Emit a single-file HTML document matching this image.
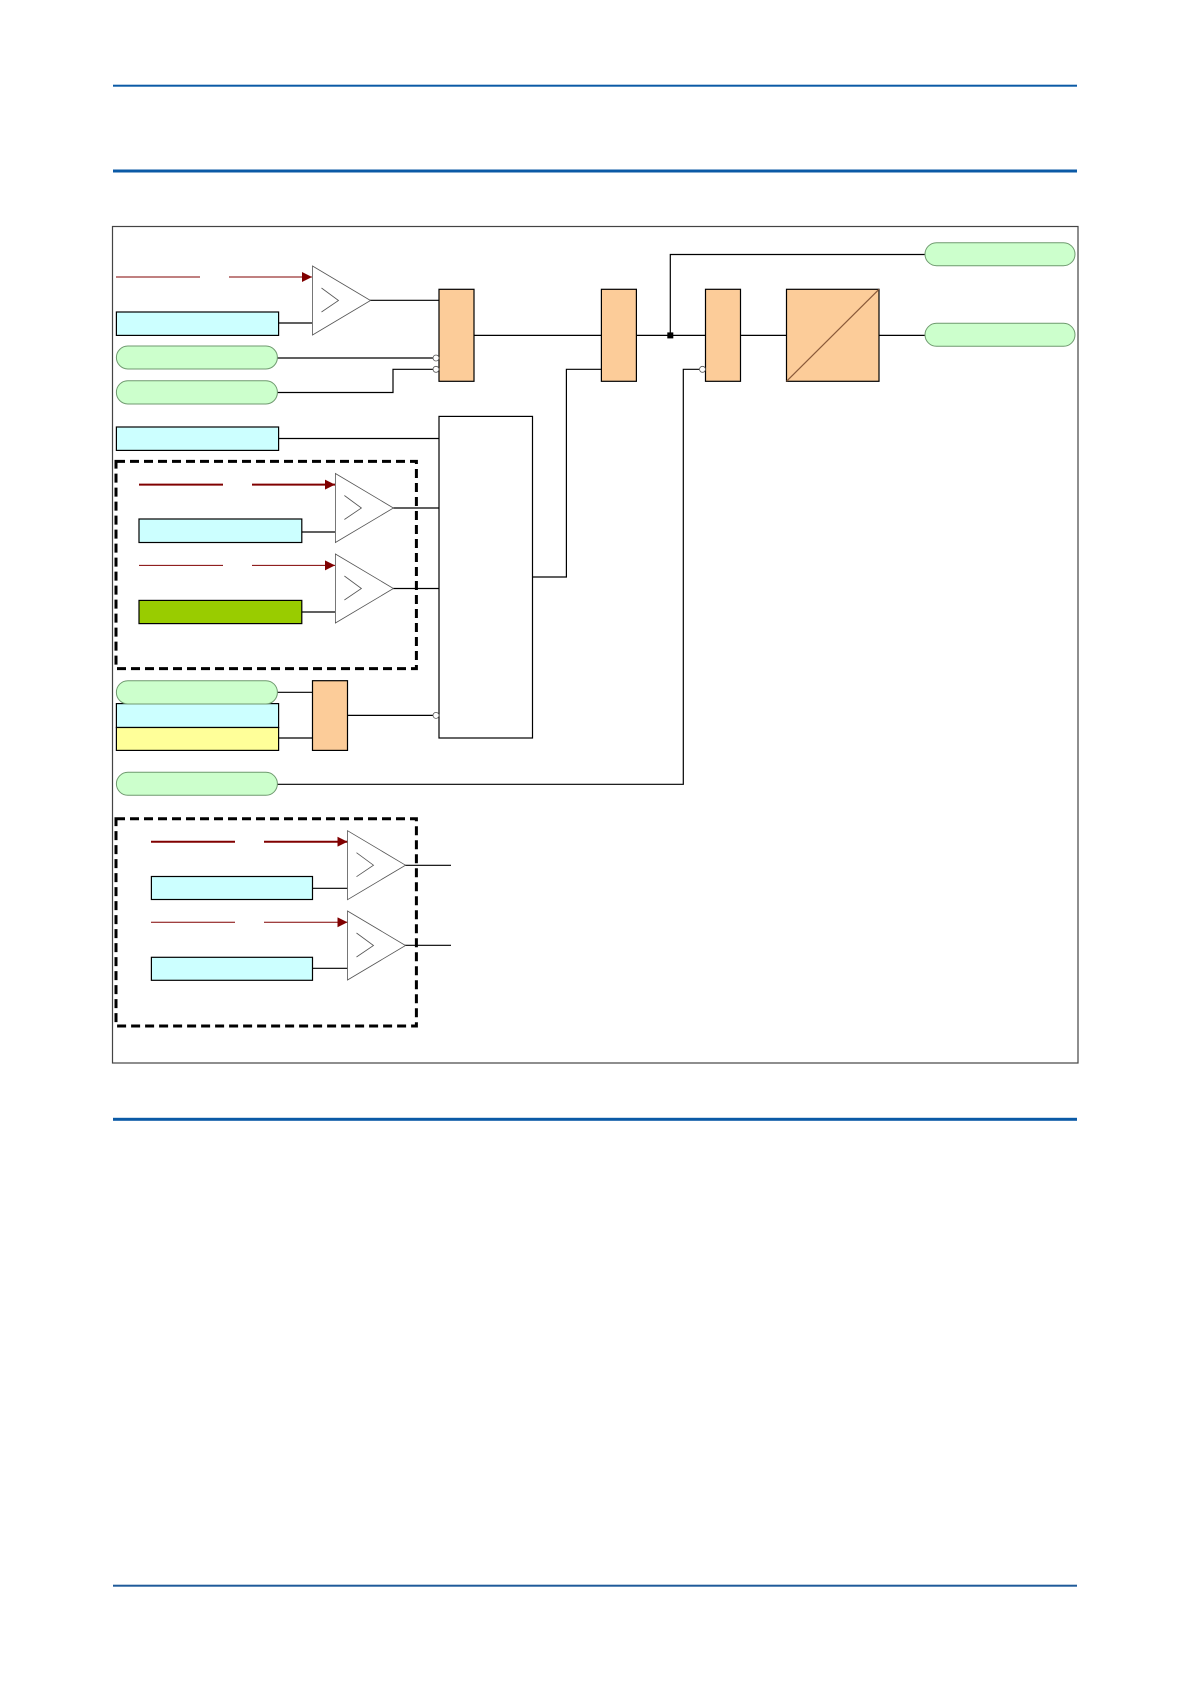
<!DOCTYPE html>
<html><head><meta charset="utf-8"><style>
html,body{margin:0;padding:0;background:#fff;}
svg{display:block;}
</style></head><body>
<svg width="1191" height="1684" viewBox="0 0 1191 1684" xmlns="http://www.w3.org/2000/svg">
<defs>
<marker id="ar" viewBox="0 0 10 10" refX="10" refY="5" markerWidth="10" markerHeight="10" markerUnits="userSpaceOnUse" orient="auto"><path d="M0,0 L10,5 L0,10 z" fill="#800000"/></marker>
<g id="tri"><path d="M0,0 L58,34.5 L0,69 z" fill="#fff" stroke="#555" stroke-width="0.8"/><path d="M9,22 L26,34.5 L9,46" fill="none" stroke="#555" stroke-width="0.8"/></g>
</defs>
<rect x="113" y="84.7" width="964" height="2" fill="#0b5aa6"/>
<rect x="113" y="169.5" width="964" height="3" fill="#0b5aa6"/>
<rect x="113" y="1117.8" width="964" height="3" fill="#0b5aa6"/>
<rect x="113" y="1584.7" width="964" height="2" fill="#1f5a99"/>
<rect x="112.5" y="226.5" width="965.5" height="836.5" fill="none" stroke="#444" stroke-width="1.2"/>

<g stroke="#000" stroke-width="1.2" fill="none">
<line x1="116" y1="277" x2="200" y2="277" stroke="#800000" stroke-width="1"/>
<line x1="229" y1="277" x2="312" y2="277" stroke="#800000" stroke-width="1" marker-end="url(#ar)"/>
<line x1="279" y1="323" x2="312" y2="323"/>
<line x1="370" y1="300.3" x2="439" y2="300.3"/>
<line x1="277" y1="358" x2="433" y2="358"/>
<polyline points="277,392.5 393,392.5 393,369.3 433,369.3"/>
<line x1="474" y1="335.4" x2="601.4" y2="335.4"/>
<line x1="636.4" y1="335.4" x2="705.5" y2="335.4"/>
<polyline points="670.3,335.4 670.3,254.5 925,254.5"/>
<line x1="740.5" y1="335.4" x2="786.5" y2="335.4"/>
<line x1="879" y1="335.4" x2="925" y2="335.4"/>
<polyline points="601.4,369.3 566.4,369.3 566.4,577 532.5,577"/>
<polyline points="699,369.3 683.3,369.3 683.3,784.3 277,784.3"/>
<line x1="279" y1="438.5" x2="439" y2="438.5"/>
<line x1="139" y1="484.6" x2="223" y2="484.6" stroke="#800000" stroke-width="2"/>
<line x1="252" y1="484.6" x2="335" y2="484.6" stroke="#800000" stroke-width="2" marker-end="url(#ar)"/>
<line x1="302" y1="532" x2="335" y2="532"/>
<line x1="393" y1="508" x2="439" y2="508"/>
<line x1="139" y1="565.4" x2="223" y2="565.4" stroke="#800000" stroke-width="1"/>
<line x1="252" y1="565.4" x2="335" y2="565.4" stroke="#800000" stroke-width="1" marker-end="url(#ar)"/>
<line x1="302" y1="612" x2="335" y2="612"/>
<line x1="393" y1="588.5" x2="439" y2="588.5"/>
<line x1="277" y1="692.3" x2="312.5" y2="692.3"/>
<line x1="279" y1="738" x2="312.5" y2="738"/>
<line x1="347.5" y1="715.4" x2="433" y2="715.4"/>
<line x1="151" y1="841.7" x2="235" y2="841.7" stroke="#800000" stroke-width="2"/>
<line x1="264" y1="841.7" x2="347.5" y2="841.7" stroke="#800000" stroke-width="2" marker-end="url(#ar)"/>
<line x1="312.5" y1="888.3" x2="347.5" y2="888.3"/>
<line x1="405" y1="865.3" x2="451" y2="865.3"/>
<line x1="151" y1="922.3" x2="235" y2="922.3" stroke="#800000" stroke-width="1"/>
<line x1="264" y1="922.3" x2="347.5" y2="922.3" stroke="#800000" stroke-width="1" marker-end="url(#ar)"/>
<line x1="312.5" y1="968.3" x2="347.5" y2="968.3"/>
<line x1="405" y1="945.3" x2="451" y2="945.3"/>
</g>

<use href="#tri" x="312.5" y="266"/>
<use href="#tri" x="335.4" y="473.5"/>
<use href="#tri" x="335.4" y="554"/>
<use href="#tri" x="347.5" y="830.7"/>
<use href="#tri" x="347.5" y="911"/>

<g stroke="#000" stroke-width="1.2">
<rect x="116.4" y="312" width="162.2" height="23.4" fill="#ccffff"/>
<rect x="116.4" y="427" width="162.2" height="23.4" fill="#ccffff"/>
<rect x="139" y="519" width="162.8" height="23.5" fill="#ccffff"/>
<rect x="139" y="600.4" width="162.8" height="23.2" fill="#99cc00"/>
<rect x="116.4" y="703.6" width="162.2" height="23.9" fill="#ccffff"/>
<rect x="116.4" y="727.5" width="162.2" height="22.9" fill="#ffff99"/>
<rect x="151.4" y="876.5" width="161.1" height="23" fill="#ccffff"/>
<rect x="151.4" y="957.3" width="161.1" height="23" fill="#ccffff"/>
<rect x="439" y="289.3" width="35" height="92" fill="#fccc99"/>
<rect x="601.4" y="289.3" width="35" height="92" fill="#fccc99"/>
<rect x="705.5" y="289.3" width="35" height="92" fill="#fccc99"/>
<rect x="786.5" y="289.3" width="92.5" height="92" fill="#fccc99"/>
<rect x="312.5" y="680.7" width="35" height="69.7" fill="#fccc99"/>
<rect x="439" y="416.4" width="93.5" height="321.6" fill="#fff"/>
</g>
<line x1="786.5" y1="381.3" x2="879" y2="289.3" stroke="#8a5a3a" stroke-width="1.2"/>
<rect x="667.3" y="332.4" width="6" height="6" fill="#000"/>

<g fill="#ccffcc" stroke="#6f9a6f" stroke-width="1">
<rect x="116.4" y="346" width="161" height="23" rx="11.5"/>
<rect x="116.4" y="380.7" width="161" height="23.3" rx="11.5"/>
<rect x="116.4" y="680.7" width="161" height="23.3" rx="11.5"/>
<rect x="116.4" y="772.3" width="161" height="23" rx="11.5"/>
<rect x="925" y="242.7" width="150" height="23" rx="11.5"/>
<rect x="925" y="323.3" width="150" height="23" rx="11.5"/>
</g>

<g fill="#fff" stroke="#555" stroke-width="0.8">
<circle cx="436" cy="358" r="3"/>
<circle cx="436" cy="369.3" r="3"/>
<circle cx="436" cy="715.4" r="3"/>
<circle cx="702.5" cy="369.3" r="3"/>
</g>

<g fill="none" stroke="#000" stroke-width="3" stroke-dasharray="9,5">
<rect x="116" y="461.4" width="300.4" height="207.2"/>
<rect x="116" y="818.7" width="300.4" height="207.3"/>
</g>
</svg>
</body></html>
